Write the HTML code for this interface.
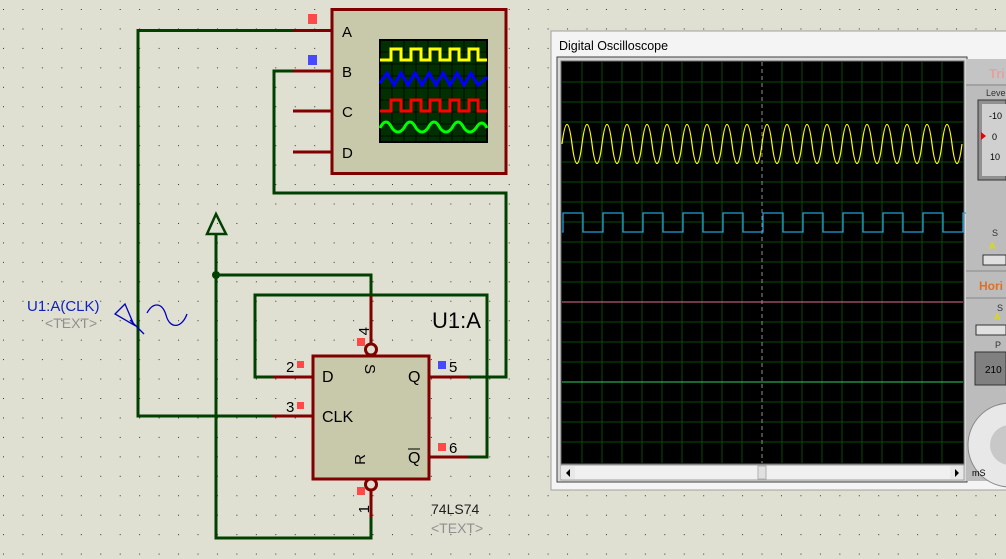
<!DOCTYPE html>
<html><head><meta charset="utf-8"><style>
html,body{margin:0;padding:0;width:1006px;height:559px;overflow:hidden;background:#e0e0d2}
svg{display:block}
text{font-family:"Liberation Sans",sans-serif}
</style></head><body>
<svg width="1006" height="559" viewBox="0 0 1006 559" xmlns="http://www.w3.org/2000/svg">
<defs>
<pattern id="dots" x="3" y="9" width="19.45" height="19.45" patternUnits="userSpaceOnUse">
<rect x="0" y="0" width="1" height="1" fill="#303030"/></pattern>
</defs>
<rect width="1006" height="559" fill="#e0e0d2"/>
<rect width="1006" height="559" fill="url(#dots)"/>

<g stroke="#004000" stroke-width="3" fill="none">
<polyline points="293,30.5 138,30.5 138,416 273,416"/>
<polyline points="293,71 274,71 274,193 506,193 506,377 468,377"/>
<polyline points="371,295 371,275 216,275 216,538 371,538 371,530"/>
<polyline points="273,377 255,377 255,295 487,295 487,457 468,457"/>
<line x1="216" y1="275" x2="216" y2="234"/>
<polygon points="216,214 207,234 226,234" stroke-width="2.5"/>
</g>
<circle cx="216" cy="275" r="4" fill="#004000"/>

<g stroke="#800000" stroke-width="3" fill="none">
<line x1="293" y1="30.5" x2="331" y2="30.5"/>
<line x1="293" y1="71" x2="331" y2="71"/>
<line x1="293" y1="111" x2="331" y2="111"/>
<line x1="293" y1="152" x2="331" y2="152"/>
</g>
<rect x="332" y="9.5" width="174" height="164" fill="#c8c8aa" stroke="#800000" stroke-width="3"/>
<text x="342" y="37" font-size="15">A</text>
<text x="342" y="77" font-size="15">B</text>
<text x="342" y="117" font-size="15">C</text>
<text x="342" y="158" font-size="15">D</text>
<rect x="380" y="40" width="107" height="102" fill="#003000" stroke="#000" stroke-width="2"/>
<g stroke="#000" stroke-width="0.8">
<path d="M392,40V142M404,40V142M416,40V142M428,40V142M440,40V142M452,40V142M464,40V142M476,40V142M380,52H487M380,64H487M380,76H487M380,88H487M380,100H487M380,112H487M380,124H487M380,136H487"/>
</g>
<path d="M380,60H391V49H401V60H411V49H421V60H430V49H440V60H450V49H459V60H469V49H478V60H487" stroke="#ff0" stroke-width="3" fill="none"/>
<path d="M380,83L387,73L394,85L401,73L408,85L415,73L422,85L429,73L436,85L443,73L450,85L457,73L464,85L471,73L478,85L487,77" stroke="#00f" stroke-width="3" fill="none"/>
<path d="M380,111H391V100H401V111H411V100H421V111H430V100H440V111H450V100H459V111H469V100H478V111H487" stroke="#f00" stroke-width="3" fill="none"/>
<path d="M380,128Q386,116 392,128Q398,136 404,128Q410,116 416,128Q422,136 428,128Q434,116 440,128Q446,136 452,128Q458,116 464,128Q470,136 476,128Q482,118 487,128" stroke="#0f0" stroke-width="3" fill="none"/>
<rect x="308" y="14" width="9" height="10" fill="#ff4848"/>
<rect x="308" y="55" width="9" height="10" fill="#4848ff"/>

<text x="27" y="311" font-size="15" fill="#1020c0">U1:A(CLK)</text>
<text x="45" y="328" font-size="14" fill="#909090">&lt;TEXT&gt;</text>
<polygon points="125,304 115,314 134,325" fill="none" stroke="#0000c0" stroke-width="1.3"/>
<line x1="130" y1="320" x2="144" y2="334" stroke="#0000c0" stroke-width="1.3"/>
<path d="M147,313 C153,302 162,302 166,315 C170,330 182,328 187,314" fill="none" stroke="#0000c0" stroke-width="1.3"/>

<g stroke="#800000" stroke-width="3" fill="none">
<line x1="273" y1="377" x2="312" y2="377"/>
<line x1="273" y1="416" x2="312" y2="416"/>
<line x1="429" y1="377" x2="468" y2="377"/>
<line x1="429" y1="457" x2="468" y2="457"/>
<line x1="371" y1="295" x2="371" y2="344"/>
<line x1="371" y1="490" x2="371" y2="518"/>
<circle cx="371" cy="349.5" r="5.5"/>
<circle cx="371" cy="484.5" r="5.5"/>
<polyline points="313,411 318,416 313,421" stroke-width="2"/>
</g>
<line x1="371" y1="518" x2="371" y2="538" stroke="#004000" stroke-width="3"/>
<rect x="313" y="356" width="116" height="123" fill="#c8c8aa" stroke="#800000" stroke-width="3"/>
<text x="322" y="382" font-size="16">D</text>
<text x="322" y="422" font-size="16">CLK</text>
<text x="408" y="382" font-size="16">Q</text>
<text x="408" y="463" font-size="16">Q</text>
<line x1="408" y1="449" x2="420" y2="449" stroke="#000" stroke-width="1"/>
<text transform="translate(365,364) rotate(90)" font-size="15">S</text>
<text transform="translate(365,454) rotate(-90)" font-size="15" text-anchor="end">R</text>
<text x="286" y="372" font-size="15">2</text>
<text x="286" y="412" font-size="15">3</text>
<text x="449" y="372" font-size="15">5</text>
<text x="449" y="453" font-size="15">6</text>
<text transform="translate(369,327) rotate(-90)" font-size="15" text-anchor="end">4</text>
<text transform="translate(369,505) rotate(-90)" font-size="15" text-anchor="end">1</text>
<rect x="297" y="361" width="7" height="7" fill="#ff4848"/>
<rect x="297" y="402" width="7" height="7" fill="#ff4848"/>
<rect x="438" y="361" width="8" height="8" fill="#4848ff"/>
<rect x="438" y="443" width="8" height="8" fill="#ff4848"/>
<rect x="357" y="338" width="8" height="8" fill="#ff4848"/>
<rect x="357" y="487" width="8" height="8" fill="#ff4848"/>
<text x="432" y="328" font-size="22">U1:A</text>
<text x="431" y="514" font-size="14" fill="#202020">74LS74</text>
<text x="431" y="533" font-size="14" fill="#909090">&lt;TEXT&gt;</text>

<rect x="551" y="31" width="460" height="459" fill="#f4f4f4" stroke="#a0a0a0"/>
<text x="559" y="50" font-size="12.5" fill="#000">Digital Oscilloscope</text>
<rect x="557" y="57" width="410" height="425" fill="#d8d8d8" stroke="#404040"/>
<rect x="561" y="61" width="403" height="403" fill="#000" stroke="#707070"/>
<g stroke="#0a4a0a" stroke-width="1">
<path d="M582,62V463M602,62V463M622,62V463M642,62V463M662,62V463M682,62V463M702,62V463M722,62V463M742,62V463M782,62V463M802,62V463M822,62V463M842,62V463M862,62V463M882,62V463M902,62V463M922,62V463M942,62V463"/>
<path d="M562,82H963M562,102H963M562,122H963M562,142H963M562,162H963M562,182H963M562,202H963M562,222H963M562,242H963M562,262H963M562,282H963M562,322H963M562,342H963M562,362H963M562,402H963M562,422H963M562,442H963"/>
</g>
<line x1="762" y1="62" x2="762" y2="463" stroke="#909090" stroke-dasharray="4,3"/>
<line x1="562" y1="302" x2="963" y2="302" stroke="#e07090"/>
<line x1="562" y1="382" x2="963" y2="382" stroke="#30d060"/>
<path d="M562,144 q5,-39 10,0 t10,0 t10,0 t10,0 t10,0 t10,0 t10,0 t10,0 t10,0 t10,0 t10,0 t10,0 t10,0 t10,0 t10,0 t10,0 t10,0 t10,0 t10,0 t10,0 t10,0 t10,0 t10,0 t10,0 t10,0 t10,0 t10,0 t10,0 t10,0 t10,0 t10,0 t10,0 t10,0 t10,0 t10,0 t10,0 t10,0 t10,0 t10,0 t10,0" fill="none" stroke="#ffff00" stroke-width="1.2"/>
<path d="M562,232 H563 V213 h20 v19 h20 v-19 h20 v19 h20 v-19 h20 v19 h20 v-19 h20 v19 h20 v-19 h20 v19 h20 v-19 h20 v19 h20 v-19 h20 v19 h20 v-19 h20 v19 h20 v-19 h20 v19 h20 v-19 h20 v19 h20 v-19 h20 v19 h20" fill="none" stroke="#20a0d8" stroke-width="1.3"/>
<rect x="561" y="465" width="403" height="15" fill="#f0f0f0" stroke="#a0a0a0"/>
<rect x="561" y="466" width="14" height="13" fill="#e8e8e8"/>
<polygon points="570,469 566,473 570,477" fill="#000"/>
<rect x="950" y="466" width="13" height="13" fill="#e8e8e8"/>
<polygon points="955,469 959,473 955,477" fill="#000"/>
<rect x="758" y="466" width="8" height="13" fill="#e0e0e0" stroke="#b0b0b0"/>
<rect x="966" y="59" width="40" height="422" fill="#bcbcbc"/>
<rect x="966" y="59" width="40" height="25" fill="#c4c4c4"/>
<text x="989" y="78" font-size="13" font-weight="bold" fill="#e8a0a0">Tri</text>
<line x1="966" y1="85" x2="1006" y2="85" stroke="#888"/>
<text x="986" y="96" font-size="9" fill="#333">Level</text>
<rect x="978" y="100" width="28" height="80" fill="#909090" stroke="#333"/>
<rect x="982" y="104" width="24" height="72" fill="#d0d0d0"/>
<text x="989" y="119" font-size="9">-10</text>
<text x="992" y="140" font-size="9">0</text>
<text x="990" y="160" font-size="9">10</text>
<polygon points="981,132 981,140 986,136" fill="#e00"/>
<text x="992" y="236" font-size="9" fill="#333">S</text>
<text x="989" y="249" font-size="9" font-weight="bold" fill="#dd0">A</text>
<rect x="983" y="255" width="23" height="10" fill="#e0e0e0" stroke="#333"/>
<line x1="966" y1="271" x2="1006" y2="271" stroke="#888"/>
<text x="979" y="290" font-size="12" font-weight="bold" fill="#e07020">Hori</text>
<line x1="966" y1="298" x2="1006" y2="298" stroke="#888"/>
<text x="997" y="311" font-size="9" fill="#333">S</text>
<text x="994" y="320" font-size="9" font-weight="bold" fill="#dd0">A</text>
<rect x="976" y="325" width="30" height="10" fill="#e0e0e0" stroke="#333"/>
<text x="995" y="348" font-size="9" fill="#333">P</text>
<rect x="975" y="352" width="31" height="33" fill="#808080" stroke="#333"/>
<text x="985" y="373" font-size="10">210</text>
<circle cx="1010" cy="445" r="42" fill="#e8e8e8" stroke="#888"/>
<circle cx="1010" cy="445" r="20" fill="#c8c8c8"/>
<text x="972" y="476" font-size="9">mS</text>
</svg>
</body></html>
